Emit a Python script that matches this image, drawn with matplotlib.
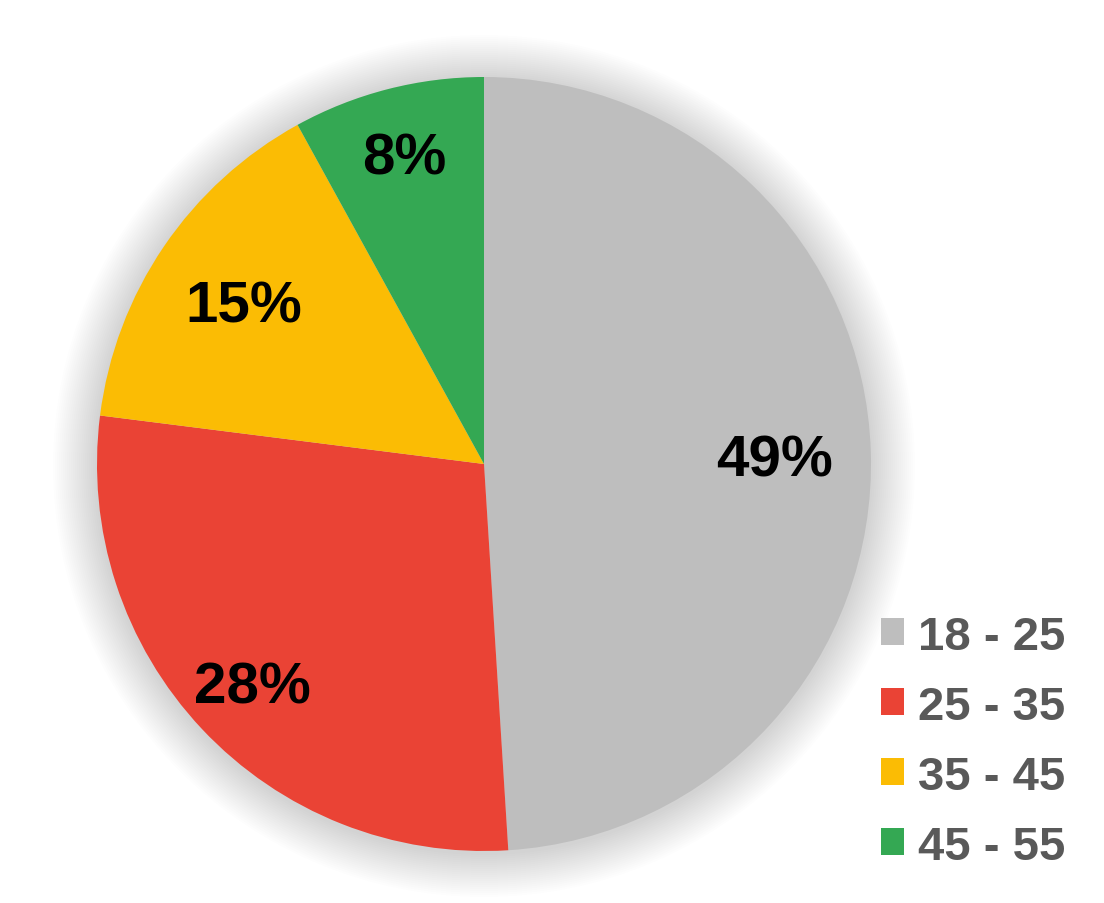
import numpy as np
import matplotlib.pyplot as plt
from matplotlib.patches import Circle

labels = ['18 - 25', '25 - 35', '35 - 45', '45 - 55']
shares = [49, 28, 15, 8]
colors = ['#BEBEBE', '#EA4335', '#FBBC04', '#34A853']
label_dist = [0.75, 0.82, 0.75, 0.83]

plt.rc('font', family=['Liberation Sans', 'DejaVu Sans'], weight='bold')

fig = plt.figure(figsize=(11.04, 9.04), dpi=100)
ax = fig.add_axes([0, 0, 1, 1])

cx, cy, r = 484, 439, 387

# soft glow round the pie
for k in range(44, 0, -2):
    ax.add_patch(Circle((cx, cy - 2), r + k, color='black', alpha=0.009, lw=0, zorder=0))

wedges, _ = ax.pie(shares, colors=colors, startangle=90, counterclock=False,
                   center=(cx, cy), radius=r, wedgeprops=dict(linewidth=0),
                   frame=True)
ax.set_xlim(0, 1104)
ax.set_ylim(0, 904)
ax.set_aspect('equal')
ax.axis('off')

for w, s, d in zip(wedges, shares, label_dist):
    ang = np.deg2rad((w.theta1 + w.theta2) / 2)
    ax.text(cx + d * r * np.cos(ang), cy + d * r * np.sin(ang), f'{s}%',
            ha='center', va='center_baseline', fontsize=42, fontweight='bold', color='black')

leg = ax.legend(wedges, labels, loc='upper left', bbox_to_anchor=(857 / 1104, 1 - 592 / 904),
                bbox_transform=fig.transFigure, frameon=False, fontsize=34,
                handlelength=0.5, handleheight=0.5, handletextpad=0.3, labelspacing=0.55,
                borderpad=0)
for t in leg.get_texts():
    t.set_color('#595959')

fig.savefig('out.png', dpi=100, facecolor='white')
